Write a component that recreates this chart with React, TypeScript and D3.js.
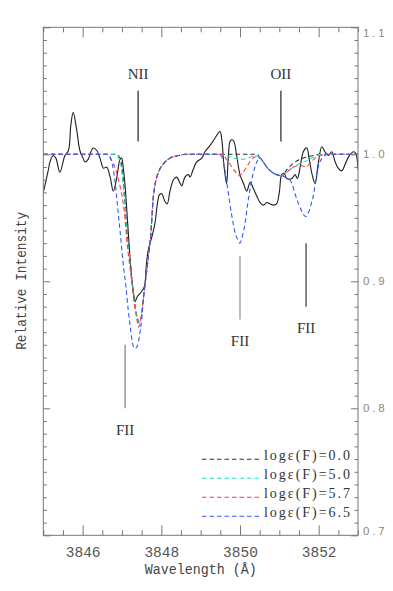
import { useEffect, useRef } from "react";
import * as d3 from "d3";

type Pt = [number, number];

// observed spectrum: wavelength (Å), relative intensity
const observed: Pt[] = [
  [3845.0, 0.970], [3845.13, 0.988], [3845.17, 0.994], [3845.25, 0.999],
  [3845.32, 0.997], [3845.42, 0.986], [3845.55, 0.999], [3845.64, 1.003],
  [3845.70, 1.023], [3845.76, 1.033], [3845.85, 1.019], [3845.93, 1.003],
  [3846.01, 0.997], [3846.06, 0.994], [3846.14, 0.996], [3846.21, 1.002],
  [3846.27, 1.005], [3846.36, 1.003], [3846.44, 0.997], [3846.53, 0.989],
  [3846.61, 0.990], [3846.70, 0.982], [3846.78, 0.971], [3846.87, 0.982],
  [3846.95, 0.996], [3846.99, 0.997], [3847.03, 0.990], [3847.08, 0.975],
  [3847.14, 0.948], [3847.19, 0.925], [3847.24, 0.905], [3847.29, 0.892],
  [3847.33, 0.884], [3847.39, 0.888], [3847.50, 0.892], [3847.57, 0.896],
  [3847.62, 0.913], [3847.67, 0.925], [3847.76, 0.935], [3847.84, 0.946],
  [3847.90, 0.961], [3847.95, 0.968], [3848.01, 0.969], [3848.09, 0.963],
  [3848.15, 0.961], [3848.22, 0.971], [3848.31, 0.980], [3848.39, 0.982],
  [3848.48, 0.977], [3848.52, 0.975], [3848.60, 0.982], [3848.69, 0.984],
  [3848.73, 0.982], [3848.81, 0.988], [3848.90, 0.994], [3849.03, 0.997],
  [3849.11, 1.002], [3849.24, 1.007], [3849.37, 1.013], [3849.49, 1.018],
  [3849.54, 1.011], [3849.59, 0.992], [3849.66, 0.977], [3849.70, 0.996],
  [3849.76, 1.011], [3849.83, 1.011], [3849.92, 0.998], [3850.00, 0.984],
  [3850.09, 0.977], [3850.17, 0.971], [3850.26, 0.978], [3850.34, 0.973],
  [3850.43, 0.967], [3850.51, 0.962], [3850.60, 0.960], [3850.68, 0.962],
  [3850.76, 0.961], [3850.85, 0.960], [3850.93, 0.961], [3851.00, 0.970],
  [3851.06, 0.984], [3851.12, 0.985], [3851.19, 0.981], [3851.32, 0.981],
  [3851.40, 0.984], [3851.46, 0.981], [3851.53, 0.990], [3851.61, 1.002],
  [3851.70, 1.005], [3851.76, 0.996], [3851.85, 0.982], [3851.91, 0.977],
  [3851.99, 0.993], [3852.08, 1.006], [3852.16, 1.002], [3852.25, 0.999],
  [3852.33, 1.002], [3852.42, 0.994], [3852.50, 0.989], [3852.59, 0.987],
  [3852.67, 0.992], [3852.76, 0.998], [3852.88, 1.002], [3852.94, 1.001],
  [3853.0, 0.988],
];

// pieces shared by all synthetic profiles
const nIIRedWing: Pt[] = [
  [3847.55, 0.888], [3847.65, 0.914], [3847.74, 0.940], [3847.79, 0.964],
  [3847.84, 0.976], [3847.93, 0.986], [3848.07, 0.993], [3848.22, 0.997],
  [3848.43, 0.999], [3848.63, 1.0],
];
const oIIDip: Pt[] = [
  [3850.51, 0.997], [3850.59, 0.994], [3850.68, 0.990], [3850.81, 0.986],
  [3850.93, 0.984], [3851.06, 0.983],
];

// log eps(F) = 0.0
const model00: Pt[] = [
  [3845.0, 1.0], [3846.85, 1.0], [3846.95, 0.997], [3847.00, 0.990],
  [3847.04, 0.977], [3847.08, 0.960], [3847.12, 0.942], [3847.19, 0.921],
  [3847.25, 0.902], [3847.31, 0.886], [3847.38, 0.873], [3847.43, 0.868],
  [3847.48, 0.870],
  ...nIIRedWing,
  [3850.43, 1.0],
  ...oIIDip,
  [3851.19, 0.988], [3851.36, 0.993], [3851.53, 0.996], [3851.70, 0.998],
  [3851.87, 0.999], [3852.0, 1.0], [3853.0, 1.0],
];

// log eps(F) = 5.0
const model50: Pt[] = [
  [3845.0, 1.0], [3846.80, 1.0], [3846.87, 0.999], [3846.93, 0.996],
  [3846.99, 0.988], [3847.03, 0.975], [3847.08, 0.959], [3847.12, 0.940],
  [3847.19, 0.919], [3847.25, 0.901], [3847.31, 0.885], [3847.38, 0.872],
  [3847.43, 0.867], [3847.48, 0.870],
  ...nIIRedWing,
  [3849.52, 1.0], [3849.75, 0.998], [3850.00, 0.996], [3850.20, 0.997],
  [3850.38, 0.999],
  ...oIIDip,
  [3851.19, 0.986], [3851.36, 0.990], [3851.53, 0.993], [3851.70, 0.995],
  [3851.82, 0.997], [3851.95, 0.999], [3852.08, 1.0], [3853.0, 1.0],
];

// log eps(F) = 5.7
const model57: Pt[] = [
  [3845.0, 1.0], [3846.62, 1.0], [3846.70, 0.997], [3846.78, 0.993],
  [3846.87, 0.985], [3846.95, 0.975], [3847.02, 0.964], [3847.08, 0.948],
  [3847.12, 0.933], [3847.19, 0.914], [3847.25, 0.899], [3847.31, 0.883],
  [3847.38, 0.870], [3847.42, 0.864], [3847.46, 0.867], [3847.51, 0.877],
  ...nIIRedWing,
  [3849.54, 1.0], [3849.66, 0.996], [3849.79, 0.990], [3849.92, 0.985],
  [3849.99, 0.983], [3850.05, 0.985], [3850.15, 0.989], [3850.27, 0.995],
  [3850.38, 0.998],
  ...oIIDip,
  [3851.19, 0.986], [3851.32, 0.989], [3851.45, 0.991], [3851.58, 0.991],
  [3851.68, 0.990], [3851.78, 0.993], [3851.91, 0.997], [3852.04, 0.999],
  [3852.16, 1.0], [3853.0, 1.0],
];

// log eps(F) = 6.5
const model65: Pt[] = [
  [3845.0, 1.0], [3846.60, 1.0], [3846.67, 0.999], [3846.75, 0.993],
  [3846.81, 0.982], [3846.86, 0.968], [3846.91, 0.952], [3846.95, 0.940],
  [3846.99, 0.927], [3847.03, 0.914], [3847.10, 0.896], [3847.16, 0.877],
  [3847.22, 0.862], [3847.27, 0.851], [3847.33, 0.847], [3847.39, 0.849],
  [3847.44, 0.856], [3847.50, 0.870],
  ...nIIRedWing,
  [3849.47, 1.0], [3849.54, 0.998], [3849.62, 0.987], [3849.70, 0.970],
  [3849.79, 0.952], [3849.87, 0.939], [3849.96, 0.932], [3850.00, 0.930],
  [3850.04, 0.933], [3850.13, 0.946], [3850.21, 0.964], [3850.30, 0.980],
  [3850.38, 0.990],
  ...oIIDip,
  [3851.15, 0.982], [3851.23, 0.981], [3851.32, 0.977], [3851.39, 0.970],
  [3851.45, 0.964], [3851.53, 0.958], [3851.59, 0.954], [3851.67, 0.951],
  [3851.74, 0.954], [3851.81, 0.961], [3851.87, 0.968], [3851.93, 0.981],
  [3852.02, 0.993], [3852.12, 0.998], [3852.24, 1.0], [3853.0, 1.0],
];

const models = [model00, model50, model57, model65];
const modelLabels = ["log\u03b5(F)=0.0", "log\u03b5(F)=5.0", "log\u03b5(F)=5.7", "log\u03b5(F)=6.5"];
const modelColors = ["#333333", "#1fe3c4", "#ff3b3b", "#3158ff"];

// line identifications
const lineIds = ["NII", "OII", "FII", "FII", "FII"];
const lineLam = [3847.41, 3851.04, 3847.08, 3850.0, 3851.68];
const lineTop = [1.05, 1.05, 0.85, 0.92, 0.93];
const lineBottom = [1.01, 1.01, 0.8, 0.87, 0.88];
const lineLabelAt = [1.059, 1.059, 0.779, 0.849, 0.8595];
const lineColors = ["#333", "#333", "#888", "#999", "#444"];

const xMajor = [3846, 3848, 3850, 3852];
const yMajor = [0.7, 0.8, 0.9, 1.0, 1.1];

const width = 393;
const height = 591;
const margin = { top: 27.3, right: 35, bottom: 55.7, left: 43.3 };

const MONO = "'Liberation Mono', 'DejaVu Sans Mono', monospace";
const SERIF = "'Liberation Serif', 'DejaVu Serif', serif";

export default function App() {
  const ref = useRef<SVGSVGElement>(null);

  useEffect(() => {
    const svg = d3.select(ref.current);
    svg.selectAll("*").remove();

    const x = d3.scaleLinear().domain([3845, 3853]).range([margin.left, width - margin.right]);
    const y = d3.scaleLinear().domain([0.7, 1.1]).range([height - margin.bottom, margin.top]);

    const xMinor = d3.range(3845, 3853.01, 0.5).filter((d) => !xMajor.includes(d));
    const yMinor = d3.range(71, 110).map((d) => d / 100).filter((d) => Math.round(d * 100) % 10 !== 0);

    svg
      .append("clipPath")
      .attr("id", "plotclip")
      .append("rect")
      .attr("x", margin.left)
      .attr("y", margin.top)
      .attr("width", width - margin.left - margin.right)
      .attr("height", height - margin.top - margin.bottom);

    const plot = svg.append("g").attr("clip-path", "url(#plotclip)");

    const line = d3
      .line<Pt>()
      .x((d) => x(d[0]))
      .y((d) => y(d[1]));

    plot
      .append("path")
      .datum(observed)
      .attr("fill", "none")
      .attr("stroke", "#1e1e1e")
      .attr("stroke-width", 1.1)
      .attr("d", line.curve(d3.curveCatmullRom.alpha(0.5)));

    models.forEach((m, i) => {
      plot
        .append("path")
        .datum(m)
        .attr("fill", "none")
        .attr("stroke", modelColors[i])
        .attr("stroke-width", 1.1)
        .attr("stroke-dasharray", "4.5,3")
        .attr("d", line.curve(d3.curveMonotoneX));
    });

    // axes
    const axisStyle = (g: d3.Selection<SVGGElement, unknown, null, undefined>) => {
      g.select(".domain").remove();
      g.selectAll("line").attr("stroke", "#777");
    };

    const bottom = height - margin.bottom;
    const right = width - margin.right;

    svg
      .append("g")
      .attr("transform", `translate(0,${bottom})`)
      .call(d3.axisBottom(x).tickValues(xMinor).tickSizeInner(-5).tickSizeOuter(0).tickFormat(() => ""))
      .call(axisStyle);
    const xAxis = svg
      .append("g")
      .attr("transform", `translate(0,${bottom})`)
      .call(d3.axisBottom(x).tickValues(xMajor).tickSizeInner(-10).tickSizeOuter(0).tickPadding(11).tickFormat(d3.format("d")))
      .call(axisStyle);
    xAxis
      .selectAll("text")
      .attr("fill", "#555")
      .style("font-family", MONO)
      .style("font-size", "14.5px");

    svg
      .append("g")
      .attr("transform", `translate(0,${margin.top})`)
      .call(d3.axisTop(x).tickValues(xMinor).tickSizeInner(-5).tickSizeOuter(0).tickFormat(() => ""))
      .call(axisStyle);
    svg
      .append("g")
      .attr("transform", `translate(0,${margin.top})`)
      .call(d3.axisTop(x).tickValues(xMajor).tickSizeInner(-10).tickSizeOuter(0).tickFormat(() => ""))
      .call(axisStyle);

    svg
      .append("g")
      .attr("transform", `translate(${margin.left},0)`)
      .call(d3.axisLeft(y).tickValues(yMinor).tickSizeInner(-3.5).tickSizeOuter(0).tickFormat(() => ""))
      .call(axisStyle);
    svg
      .append("g")
      .attr("transform", `translate(${margin.left},0)`)
      .call(d3.axisLeft(y).tickValues(yMajor).tickSizeInner(-7).tickSizeOuter(0).tickFormat(() => ""))
      .call(axisStyle);

    svg
      .append("g")
      .attr("transform", `translate(${right},0)`)
      .call(d3.axisRight(y).tickValues(yMinor).tickSizeInner(-3.5).tickSizeOuter(0).tickFormat(() => ""))
      .call(axisStyle);
    const yAxis = svg
      .append("g")
      .attr("transform", `translate(${right},0)`)
      .call(d3.axisRight(y).tickValues(yMajor).tickSizeInner(-7).tickSizeOuter(0).tickPadding(5).tickFormat(d3.format(".1f")))
      .call(axisStyle);
    yAxis
      .selectAll<SVGTextElement, number>("text")
      .attr("fill", "#888")
      .attr("y", (d) => (d === 1.1 ? 5.5 : d === 0.7 ? -4.5 : 0))
      .style("font-family", "'Liberation Sans', Arial, sans-serif")
      .style("font-size", "11.5px")
      .style("letter-spacing", "2.8px");

    // frame
    svg
      .append("rect")
      .attr("x", margin.left)
      .attr("y", margin.top)
      .attr("width", right - margin.left)
      .attr("height", bottom - margin.top)
      .attr("fill", "none")
      .attr("stroke", "#777")
      .attr("stroke-width", 1);

    // axis titles
    svg
      .append("text")
      .attr("x", (margin.left + right) / 2)
      .attr("y", 574)
      .attr("text-anchor", "middle")
      .attr("fill", "#444")
      .attr("textLength", 112)
      .attr("lengthAdjust", "spacingAndGlyphs")
      .style("font-family", MONO)
      .style("font-size", "14px")
      .text("Wavelength (\u00c5)");

    svg
      .append("text")
      .attr("transform", `translate(26,${(211.7 + 350) / 2}) rotate(-90)`)
      .attr("text-anchor", "middle")
      .attr("fill", "#444")
      .attr("textLength", 138)
      .attr("lengthAdjust", "spacingAndGlyphs")
      .style("font-family", MONO)
      .style("font-size", "14px")
      .text("Relative Intensity");

    // line identifications
    lineIds.forEach((id, i) => {
      svg
        .append("line")
        .attr("x1", x(lineLam[i]))
        .attr("x2", x(lineLam[i]))
        .attr("y1", y(lineTop[i]))
        .attr("y2", y(lineBottom[i]))
        .attr("stroke", lineColors[i])
        .attr("stroke-width", 1.3);
      svg
        .append("text")
        .attr("x", x(lineLam[i]))
        .attr("y", y(lineLabelAt[i]))
        .attr("text-anchor", "middle")
        .attr("fill", "#333")
        .style("font-family", SERIF)
        .style("font-size", "15px")
        .text(id);
    });

    // legend
    const legend = svg.append("g");
    modelLabels.forEach((label, i) => {
      const ly = 459.3 + i * 19;
      legend
        .append("line")
        .attr("x1", 202)
        .attr("x2", 261)
        .attr("y1", ly)
        .attr("y2", ly)
        .attr("stroke", modelColors[i])
        .attr("stroke-width", 1.1)
        .attr("stroke-dasharray", "4.5,3");
      legend
        .append("text")
        .attr("x", 264)
        .attr("y", ly + 1)
        .attr("fill", "#333")
        .attr("textLength", 86)
        .attr("lengthAdjust", "spacing")
        .style("font-family", SERIF)
        .style("font-size", "14px")
        .text(label);
    });
  }, []);

  return (
    <svg
      ref={ref}
      width={width}
      height={height}
      style={{ display: "block", position: "absolute", left: 0, top: 0, background: "#fff" }}
    />
  );
}
